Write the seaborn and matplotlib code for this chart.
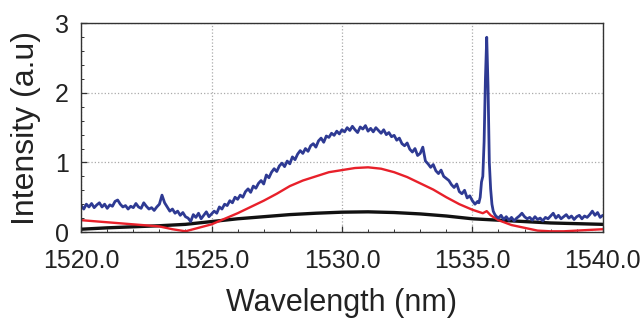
import numpy as np
import pandas as pd
import matplotlib
matplotlib.use("Agg")
import matplotlib.pyplot as plt
import seaborn as sns
from matplotlib.ticker import MultipleLocator, FormatStrFormatter

# ---------------- DATA ----------------
# Blue (measured spectrum): three wavelength segments
blue_wl_a = np.round(np.arange(1520.0, 1535.2 + 1e-6, 0.1), 2)
blue_int_a = [
    0.38, 0.33, 0.40, 0.36, 0.41, 0.35, 0.39, 0.42, 0.36, 0.40, 0.34,
    0.39, 0.37, 0.44, 0.46, 0.40, 0.36, 0.38, 0.33, 0.37, 0.35,
    0.41, 0.36, 0.34, 0.42, 0.37, 0.33, 0.35, 0.31, 0.36, 0.40,
    0.53, 0.42, 0.36, 0.30, 0.33, 0.27, 0.30, 0.24, 0.28, 0.22,
    0.20, 0.15, 0.25, 0.21, 0.27, 0.19, 0.24, 0.29, 0.22, 0.26,
    0.30, 0.27, 0.36, 0.33, 0.40, 0.38, 0.45, 0.42, 0.50, 0.47,
    0.53, 0.50, 0.58, 0.62, 0.57, 0.66, 0.63, 0.70, 0.74, 0.69,
    0.82, 0.78, 0.86, 0.91, 0.87, 0.95, 0.99, 0.94, 1.02, 0.98,
    1.08, 1.04, 1.12, 1.17, 1.13, 1.20, 1.16, 1.24, 1.27, 1.22,
    1.31, 1.35, 1.29, 1.38, 1.36, 1.42, 1.39, 1.45, 1.41, 1.47,
    1.44, 1.50, 1.46, 1.52, 1.47, 1.43, 1.51, 1.48, 1.53, 1.45,
    1.49, 1.44, 1.50, 1.46, 1.42, 1.47, 1.40, 1.43, 1.37, 1.39,
    1.32, 1.35, 1.27, 1.24, 1.28, 1.19, 1.15, 1.20, 1.10, 1.13,
    1.22, 1.02, 0.98, 0.93, 0.97, 0.88, 0.84, 0.89, 0.80, 0.77,
    0.74, 0.68, 0.64, 0.69, 0.58, 0.55, 0.60, 0.49, 0.52, 0.45,
    0.40, 0.44,
]
blue_wl_b = np.round(np.arange(1535.25, 1535.90 + 1e-6, 0.05), 2)
blue_int_b = [0.42, 0.50, 0.72, 0.80, 1.30, 2.20, 2.80, 2.10, 1.00, 0.62,
              0.40, 0.30, 0.26, 0.23]
blue_wl_c = np.round(np.arange(1536.0, 1540.0 + 1e-6, 0.1), 2)
blue_int_c = [
    0.20, 0.24, 0.18, 0.22, 0.17, 0.21, 0.16, 0.20, 0.23, 0.27,
    0.22, 0.19, 0.21, 0.17, 0.22, 0.18, 0.20, 0.16, 0.21, 0.19,
    0.23, 0.27, 0.20, 0.24, 0.19, 0.22, 0.25, 0.20, 0.23, 0.18,
    0.22, 0.24, 0.19, 0.23, 0.21, 0.25, 0.30, 0.24, 0.28, 0.21,
    0.24,
]

# Red (smooth fit)
red_wl = [1520, 1521, 1522, 1523, 1523.5, 1524, 1524.5, 1525, 1525.5, 1526,
          1526.5, 1527, 1527.5, 1528, 1528.5, 1529, 1529.5, 1530, 1530.5, 1531,
          1531.5, 1532, 1532.5, 1533, 1533.5, 1534, 1534.5, 1535, 1535.4, 1535.55,
          1535.7, 1536, 1536.5, 1537, 1537.5, 1538, 1538.5, 1539, 1539.5, 1540]
red_int = [0.17, 0.14, 0.11, 0.08, 0.04, 0.01, 0.06, 0.11, 0.19, 0.27,
           0.36, 0.45, 0.55, 0.66, 0.74, 0.80, 0.86, 0.89, 0.92, 0.93,
           0.91, 0.86, 0.79, 0.70, 0.61, 0.50, 0.40, 0.32, 0.27, 0.30,
           0.24, 0.17, 0.10, 0.06, 0.02, 0.01, 0.01, 0.02, 0.03, 0.04]

# Black (baseline)
black_wl = [1520, 1521, 1522, 1523, 1524, 1525, 1526, 1527, 1528, 1529, 1530,
            1531, 1532, 1533, 1534, 1535, 1536, 1537, 1538, 1539, 1540]
black_int = [0.04, 0.06, 0.075, 0.09, 0.11, 0.15, 0.19, 0.22, 0.25, 0.27, 0.285,
             0.29, 0.28, 0.26, 0.23, 0.19, 0.17, 0.15, 0.13, 0.12, 0.11]

x_ticks = [1520.0, 1525.0, 1530.0, 1535.0, 1540.0]
y_ticks = [0, 1, 2, 3]

# ---------------- PLOT ----------------
sns.set_theme(style="white")
plt.rcParams['font.family'] = ['Liberation Sans', 'DejaVu Sans']

blue_wl = np.concatenate([blue_wl_a, blue_wl_b, blue_wl_c])
blue_int = np.concatenate([blue_int_a, blue_int_b, blue_int_c])

fig = plt.figure(figsize=(6.44, 3.2), dpi=100)
ax = fig.add_axes([0.126, 0.275, 0.810, 0.652])

sns.lineplot(x=black_wl, y=black_int, ax=ax, color="#111111", lw=2.4, sort=False)
sns.lineplot(x=red_wl, y=red_int, ax=ax, color="#E8202A", lw=1.7, sort=False)
sns.lineplot(x=blue_wl, y=blue_int, ax=ax, color="#2E3A93", lw=2.0, sort=False)

ax.set_xlim(1520, 1540)
ax.set_ylim(0, 3)
ax.set_xticks(x_ticks)
ax.set_yticks(y_ticks)
ax.xaxis.set_major_formatter(FormatStrFormatter('%.1f'))
ax.xaxis.set_minor_locator(MultipleLocator(1))
ax.yaxis.set_minor_locator(MultipleLocator(0.2))
ax.grid(True, which='major', linestyle=':', color='#aaaaaa', linewidth=0.9)

ax.tick_params(axis='both', which='both', direction='in', colors='#333333',
               labelcolor='#222222', labelsize=18, bottom=True, left=True,
               top=False, right=False)
ax.tick_params(axis='both', which='major', length=4, width=0.9)
ax.tick_params(axis='both', which='minor', length=2.5, width=0.7)
ax.tick_params(axis='x', which='major', pad=12)
ax.tick_params(axis='y', which='major', pad=9)

for s in ax.spines.values():
    s.set_color('#333333')
    s.set_linewidth(1.0)
    s.set_visible(True)

ax.set_xlabel("Wavelength (nm)", fontsize=22, color='#222222', labelpad=11)
ax.set_ylabel("Intensity (a.u)", fontsize=23, color='#222222', labelpad=10)

fig.savefig("out.png", dpi=100)
